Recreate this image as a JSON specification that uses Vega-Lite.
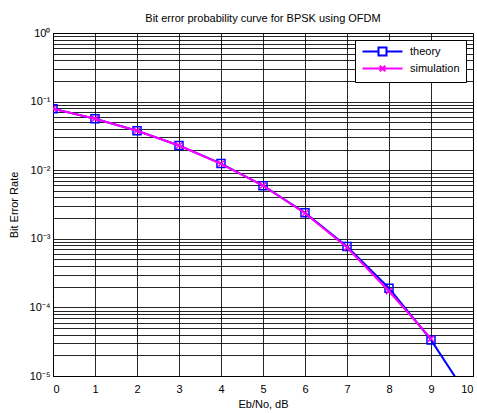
{
  "$schema": "https://vega.github.io/schema/vega-lite/v6.json",
  "autosize": "none",
  "padding": {"left": 53, "top": 33, "right": 4, "bottom": 37},
  "width": 420,
  "height": 343,
  "background": "white",
  "config": {
    "font": "Liberation Sans",
    "view": {"stroke": "black", "strokeWidth": 1},
    "axis": {
      "labelFont": "Liberation Sans",
      "titleFont": "Liberation Sans",
      "labelFontSize": 11,
      "titleFontSize": 11,
      "titleFontWeight": "normal",
      "labelColor": "black",
      "titleColor": "black",
      "domainColor": "black",
      "gridColor": "black",
      "gridOpacity": 0.85,
      "gridWidth": 1,
      "ticks": false
    }
  },
  "title": {
    "text": "Bit error probability curve for BPSK using OFDM",
    "fontSize": 11,
    "fontWeight": "normal",
    "font": "Liberation Sans",
    "color": "black",
    "offset": 3
  },
  "data": {
    "values": [
      {"x": 0, "ber": 0.07865, "series": "theory"},
      {"x": 1, "ber": 0.05628, "series": "theory"},
      {"x": 2, "ber": 0.03751, "series": "theory"},
      {"x": 3, "ber": 0.02288, "series": "theory"},
      {"x": 4, "ber": 0.01250, "series": "theory"},
      {"x": 5, "ber": 0.005954, "series": "theory"},
      {"x": 6, "ber": 0.002388, "series": "theory"},
      {"x": 7, "ber": 0.0007727, "series": "theory"},
      {"x": 8, "ber": 0.0001909, "series": "theory"},
      {"x": 9, "ber": 0.00003362, "series": "theory"},
      {"x": 10, "ber": 0.000003872, "series": "theory"},
      {"x": 0, "ber": 0.0787, "series": "simulation"},
      {"x": 1, "ber": 0.0563, "series": "simulation"},
      {"x": 2, "ber": 0.0376, "series": "simulation"},
      {"x": 3, "ber": 0.0229, "series": "simulation"},
      {"x": 4, "ber": 0.0124, "series": "simulation"},
      {"x": 5, "ber": 0.00597, "series": "simulation"},
      {"x": 6, "ber": 0.00236, "series": "simulation"},
      {"x": 7, "ber": 0.000748, "series": "simulation"},
      {"x": 8, "ber": 0.000172, "series": "simulation"},
      {"x": 9, "ber": 0.000035, "series": "simulation"}
    ]
  },
  "encoding": {
    "x": {
      "field": "x",
      "type": "quantitative",
      "scale": {"domain": [0, 10], "nice": false, "zero": false},
      "axis": {
        "values": [0, 1, 2, 3, 4, 5, 6, 7, 8, 9, 10],
        "title": "Eb/No, dB",
        "labelPadding": 7,
        "titlePadding": 4,
        "grid": true
      }
    },
    "y": {
      "field": "ber",
      "type": "quantitative",
      "scale": {"type": "log", "domain": [0.00001, 1], "nice": false},
      "axis": {
        "values": [0.00001, 0.00002, 0.00003, 0.00004, 0.00005, 0.00006, 0.00007, 0.00008, 0.00009,
                   0.0001, 0.0002, 0.0003, 0.0004, 0.0005, 0.0006, 0.0007, 0.0008, 0.0009,
                   0.001, 0.002, 0.003, 0.004, 0.005, 0.006, 0.007, 0.008, 0.009,
                   0.01, 0.02, 0.03, 0.04, 0.05, 0.06, 0.07, 0.08, 0.09,
                   0.1, 0.2, 0.3, 0.4, 0.5, 0.6, 0.7, 0.8, 0.9, 1],
        "labelExpr": "abs(log(datum.value)/LN10 - round(log(datum.value)/LN10)) < 1e-6 ? '10' + ['⁰','⁻¹','⁻²','⁻³','⁻⁴','⁻⁵'][-round(log(datum.value)/LN10)] : ''",
        "title": "Bit Error Rate",
        "labelPadding": 3,
        "titlePadding": 10,
        "grid": true
      }
    }
  },
  "layer": [
    {
      "transform": [{"filter": "datum.series === 'theory'"}],
      "mark": {"type": "line", "color": "#0000ff", "strokeWidth": 2, "clip": true}
    },
    {
      "transform": [{"filter": "datum.series === 'theory'"}],
      "mark": {"type": "point", "shape": "square", "size": 64, "filled": false, "stroke": "#0000ff", "strokeWidth": 1.5, "opacity": 1, "clip": true}
    },
    {
      "transform": [{"filter": "datum.series === 'simulation'"}],
      "mark": {"type": "line", "color": "#ff00ff", "strokeWidth": 2, "clip": true}
    },
    {
      "transform": [{"filter": "datum.series === 'simulation'"}],
      "mark": {"type": "point", "shape": "M-1,-1L1,1M-1,1L1,-1", "size": 36, "filled": false, "stroke": "#ff00ff", "strokeWidth": 1.5, "opacity": 1, "clip": true}
    },
    {
      "mark": {"type": "point", "filled": false, "opacity": 0, "strokeWidth": 1.5, "clip": true},
      "encoding": {
        "color": {
          "field": "series",
          "type": "nominal",
          "scale": {"domain": ["theory", "simulation"], "range": ["#0000ff", "#ff00ff"]},
          "legend": {
            "title": null,
            "orient": "top-right",
            "offset": 7,
            "padding": 6,
            "rowPadding": 1,
            "strokeColor": "black",
            "fillColor": "white",
            "symbolOpacity": 1,
            "symbolSize": 64,
            "symbolStrokeWidth": 2,
            "labelOffset": 38,
            "labelFontSize": 11,
            "labelFont": "Liberation Sans",
            "labelColor": "black"
          }
        },
        "shape": {
          "field": "series",
          "type": "nominal",
          "scale": {
            "domain": ["theory", "simulation"],
            "range": ["M-1,0H3M5,0H9M3,-1H5V1H3Z", "M-1,0H9M3.3,-0.7L4.7,0.7M3.3,0.7L4.7,-0.7"]
          },
          "legend": {
            "title": null,
            "orient": "top-right"
          }
        }
      }
    }
  ]
}
